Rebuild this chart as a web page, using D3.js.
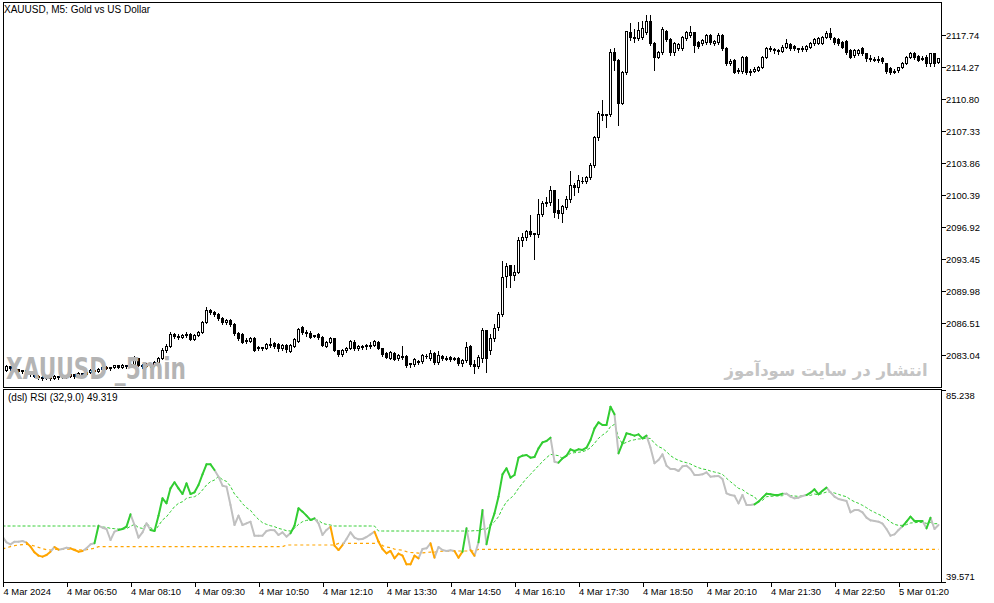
<!DOCTYPE html>
<html>
<head>
<meta charset="utf-8">
<script src="https://cdn.jsdelivr.net/npm/d3@7"></script>
<style>
  body { margin: 0; background: #fff; }
  svg { display: block; }
  text { font-family: Tahoma, "Liberation Sans", Arial, sans-serif; }
</style>
</head>
<body>
<div id="chart"></div>
<script>
// chart texts
const chartTitle = "XAUUSD, M5:  Gold vs US Dollar";
const rsiTitle = "(dsl) RSI (32,9.0) 49.319";
const watermark = "XAUUSD _5min";
const siteNote = "انتشار در سایت سودآموز";

// axis ticks
const priceTicks = [2083.04, 2086.51, 2089.98, 2093.45, 2096.92, 2100.39, 2103.86, 2107.33, 2110.80, 2114.27, 2117.74];
const rsiTicks = [85.238, 39.571];
const timeLabels = ["4 Mar 2024", "4 Mar 06:50", "4 Mar 08:10", "4 Mar 09:30", "4 Mar 10:50", "4 Mar 12:10",
  "4 Mar 13:30", "4 Mar 14:50", "4 Mar 16:10", "4 Mar 17:30", "4 Mar 18:50", "4 Mar 20:10",
  "4 Mar 21:30", "4 Mar 22:50", "5 Mar 01:20"];
const timeLabelBars = [0, 16, 32, 48, 64, 80, 96, 112, 128, 144, 160, 176, 192, 208, 224];

// M5 bars: [open, high, low, close]
const candles = [
  [2081.52,2081.74,2081.20,2081.41],[2081.41,2082.06,2081.30,2081.85],[2081.85,2081.95,2081.41,2081.63],[2081.63,2081.85,2081.30,2081.52],[2081.52,2081.63,2081.20,2081.30],
  [2081.30,2081.52,2081.09,2081.41],[2081.41,2081.52,2080.98,2081.09],[2081.09,2081.30,2080.76,2080.98],[2080.98,2081.09,2080.65,2080.76],[2080.76,2080.98,2080.44,2080.65],
  [2080.65,2080.87,2080.33,2080.55],[2080.55,2080.76,2080.44,2080.65],[2080.65,2080.87,2080.33,2080.55],[2080.55,2080.98,2080.44,2080.76],[2080.76,2080.87,2080.44,2080.65],
  [2080.65,2081.09,2080.55,2080.87],[2080.87,2080.98,2080.55,2080.76],[2080.76,2081.20,2080.65,2080.98],[2080.98,2081.09,2080.55,2080.76],[2080.76,2081.30,2080.65,2081.09],
  [2081.09,2081.20,2080.76,2080.98],[2080.98,2081.41,2080.87,2081.20],[2081.20,2081.63,2081.09,2081.41],[2081.41,2081.52,2081.09,2081.30],[2081.30,2081.74,2081.20,2081.52],
  [2081.52,2081.95,2081.41,2081.74],[2081.74,2081.95,2081.52,2081.63],[2081.63,2081.85,2081.41,2081.74],[2081.74,2082.06,2081.63,2081.95],[2081.95,2082.06,2081.63,2081.74],
  [2081.74,2082.17,2081.63,2081.95],[2081.95,2082.06,2081.63,2081.85],[2081.85,2082.28,2081.74,2082.06],[2082.06,2083.04,2081.95,2082.71],[2082.71,2082.82,2081.85,2081.95],
  [2081.95,2082.17,2081.63,2081.85],[2081.85,2082.28,2081.74,2082.06],[2082.06,2082.28,2081.74,2081.95],[2081.95,2082.50,2081.85,2082.28],[2082.28,2082.93,2082.17,2082.71],
  [2082.71,2083.91,2082.61,2083.58],[2083.58,2084.34,2083.37,2084.02],[2084.02,2085.64,2083.91,2085.31],[2085.31,2085.53,2084.88,2085.10],[2085.10,2085.42,2084.77,2084.99],
  [2084.99,2085.42,2084.88,2085.21],[2085.21,2085.64,2084.99,2085.31],[2085.31,2085.53,2084.67,2084.77],[2084.77,2085.42,2084.67,2085.21],[2085.21,2085.75,2085.10,2085.53],
  [2085.53,2086.83,2085.42,2086.62],[2086.62,2088.35,2086.51,2087.92],[2087.92,2088.14,2087.49,2087.70],[2087.70,2087.92,2087.27,2087.49],[2087.49,2087.70,2086.83,2087.05],
  [2087.05,2087.27,2086.40,2086.62],[2086.62,2087.05,2086.40,2086.83],[2086.83,2087.05,2086.18,2086.40],[2086.40,2086.62,2085.21,2085.42],[2085.42,2085.64,2084.67,2084.88],
  [2085.31,2085.53,2084.34,2084.45],[2084.67,2084.99,2084.34,2084.56],[2084.56,2085.10,2084.45,2084.88],[2084.88,2085.10,2083.47,2083.58],[2083.80,2084.13,2083.58,2083.91],
  [2083.80,2084.02,2083.58,2083.91],[2083.80,2084.45,2083.69,2084.23],[2084.23,2084.99,2083.91,2084.13],[2084.34,2084.56,2083.80,2084.02],[2084.23,2084.45,2083.47,2083.80],
  [2083.80,2084.34,2083.58,2084.13],[2084.13,2084.34,2083.37,2083.69],[2083.47,2084.34,2083.37,2084.13],[2084.02,2084.99,2083.91,2084.77],[2084.56,2086.07,2084.45,2085.86],
  [2086.07,2086.29,2085.31,2085.53],[2085.53,2085.86,2085.10,2085.42],[2085.42,2085.75,2084.88,2084.99],[2085.10,2085.31,2084.99,2085.21],[2085.31,2085.53,2084.77,2084.99],
  [2084.99,2085.21,2084.02,2084.13],[2084.02,2084.67,2083.91,2084.45],[2084.45,2085.10,2084.34,2084.88],[2084.88,2084.99,2083.47,2083.58],[2083.58,2083.69,2082.93,2083.15],
  [2083.15,2083.80,2082.93,2083.58],[2083.58,2084.02,2083.37,2083.80],[2083.80,2084.77,2083.69,2084.56],[2084.45,2084.77,2083.58,2083.80],[2083.80,2084.23,2083.58,2084.02],
  [2083.91,2084.23,2083.69,2084.02],[2084.02,2084.34,2083.69,2084.13],[2084.13,2084.56,2083.80,2084.07],[2084.13,2084.77,2084.02,2084.56],[2084.45,2084.67,2083.69,2083.80],
  [2083.80,2083.91,2082.93,2083.15],[2083.26,2083.47,2082.71,2082.82],[2082.71,2083.58,2082.61,2083.37],[2083.26,2083.47,2082.50,2082.61],[2082.71,2083.26,2082.50,2083.04],
  [2082.93,2084.13,2082.61,2082.82],[2082.93,2083.15,2081.74,2081.95],[2082.06,2082.28,2081.74,2082.17],[2082.06,2082.82,2081.85,2082.61],[2082.39,2082.61,2082.06,2082.28],
  [2082.39,2083.26,2082.17,2083.04],[2082.93,2083.26,2082.71,2082.88],[2082.71,2083.69,2082.50,2083.26],[2083.26,2083.47,2082.06,2082.28],[2082.28,2083.58,2082.06,2083.04],
  [2082.93,2083.15,2082.50,2082.71],[2082.71,2083.04,2082.50,2082.66],[2082.82,2083.04,2082.39,2082.61],[2082.71,2082.93,2082.50,2082.66],[2082.71,2082.93,2081.95,2082.17],
  [2082.17,2082.71,2081.85,2082.50],[2082.50,2084.56,2082.28,2083.91],[2084.02,2084.23,2081.85,2082.06],[2082.06,2082.61,2081.09,2081.85],[2081.85,2083.15,2081.63,2082.82],
  [2082.71,2086.07,2082.28,2085.75],[2085.75,2085.86,2081.20,2082.71],[2083.58,2085.42,2083.15,2084.88],[2084.88,2086.51,2084.56,2085.97],[2086.07,2087.81,2085.75,2087.49],
  [2087.49,2093.34,2087.27,2091.50],[2091.61,2093.12,2090.42,2092.69],[2092.80,2092.80,2090.42,2091.71],[2091.71,2092.91,2091.17,2092.04],[2092.04,2095.94,2091.93,2095.51],
  [2095.51,2096.38,2094.86,2095.84],[2095.84,2096.71,2095.51,2096.49],[2096.49,2098.33,2095.94,2096.16],[2096.16,2096.38,2093.45,2096.27],[2096.16,2100.06,2095.84,2098.33],
  [2098.33,2099.85,2098.11,2099.52],[2099.52,2100.28,2099.20,2099.63],[2099.63,2101.47,2099.31,2100.93],[2100.93,2101.04,2098.00,2098.55],[2098.76,2100.06,2097.89,2098.44],
  [2098.44,2099.42,2097.46,2099.20],[2099.09,2100.39,2098.87,2099.96],[2099.96,2103.10,2099.63,2101.47],[2101.47,2101.80,2100.39,2101.26],[2101.26,2102.67,2100.71,2102.02],
  [2101.91,2102.45,2101.69,2101.96],[2101.91,2102.56,2101.69,2102.34],[2102.34,2103.97,2102.12,2103.64],[2103.64,2106.90,2103.43,2106.68],[2106.68,2109.61,2106.35,2109.28],
  [2109.17,2110.80,2108.52,2109.06],[2109.06,2109.28,2107.76,2109.17],[2109.17,2116.33,2108.96,2115.90],[2115.90,2116.44,2113.94,2115.03],[2115.03,2115.25,2107.98,2110.37],
  [2110.37,2113.94,2110.26,2113.73],[2113.73,2118.28,2113.51,2118.17],[2118.07,2119.15,2117.20,2117.52],[2117.52,2118.50,2116.98,2117.42],[2117.42,2119.26,2117.20,2118.28],
  [2117.52,2119.37,2117.31,2118.50],[2118.07,2120.02,2117.85,2119.26],[2119.26,2120.02,2116.66,2116.87],[2116.87,2117.09,2113.94,2115.35],[2115.35,2116.11,2115.25,2115.90],
  [2115.90,2118.72,2115.68,2118.39],[2118.17,2118.39,2117.09,2117.31],[2117.31,2117.52,2115.57,2115.90],[2115.90,2117.09,2115.57,2116.87],[2116.33,2116.98,2116.11,2116.76],
  [2116.33,2117.74,2116.11,2117.52],[2117.42,2118.28,2117.20,2118.07],[2117.74,2118.82,2117.52,2118.07],[2118.07,2118.17,2115.90,2116.66],[2116.98,2117.20,2116.33,2116.55],
  [2116.87,2117.42,2116.66,2117.20],[2116.98,2117.96,2116.76,2117.74],[2117.74,2117.96,2116.76,2116.98],[2116.87,2117.31,2116.66,2117.09],[2116.98,2118.07,2116.76,2117.74],
  [2117.74,2117.96,2116.11,2116.33],[2116.33,2116.55,2114.49,2114.70],[2114.70,2115.25,2114.49,2114.92],[2115.03,2115.25,2113.62,2113.73],[2113.94,2114.27,2113.62,2113.84],
  [2113.84,2115.57,2113.62,2115.35],[2115.35,2115.57,2113.51,2113.73],[2113.73,2114.16,2113.40,2113.84],[2113.84,2114.38,2113.73,2114.05],[2113.94,2114.49,2113.84,2114.27],
  [2114.27,2115.57,2114.16,2115.35],[2115.35,2116.55,2115.25,2116.33],[2116.33,2116.66,2116.01,2116.22],[2116.22,2116.44,2115.79,2116.11],[2116.11,2116.33,2115.68,2116.01],
  [2116.01,2116.76,2115.90,2116.44],[2116.44,2117.42,2116.33,2116.87],[2116.76,2116.98,2116.11,2116.33],[2116.55,2116.76,2116.11,2116.33],[2116.33,2116.44,2115.90,2116.22],
  [2116.22,2116.66,2116.01,2116.33],[2116.22,2116.76,2116.01,2116.55],[2116.44,2117.09,2116.33,2116.87],[2116.87,2117.52,2116.66,2117.31],[2116.87,2117.63,2116.76,2117.42],
  [2116.87,2117.74,2116.76,2117.52],[2117.52,2118.28,2117.42,2117.96],[2117.96,2118.61,2117.31,2117.52],[2117.42,2117.63,2116.76,2116.98],[2117.31,2117.52,2116.66,2116.87],
  [2116.98,2117.20,2116.33,2116.44],[2117.09,2117.31,2115.68,2115.90],[2116.11,2116.33,2115.25,2115.35],[2115.57,2116.33,2115.35,2116.11],[2115.79,2116.33,2115.57,2116.11],
  [2116.33,2116.55,2115.57,2115.79],[2115.79,2115.90,2114.92,2115.25],[2115.25,2115.68,2114.92,2115.14],[2115.14,2115.46,2114.92,2115.03],[2115.03,2115.57,2114.81,2115.14],
  [2115.25,2115.46,2114.70,2114.92],[2114.70,2114.81,2113.62,2113.84],[2114.16,2114.38,2113.51,2113.73],[2113.73,2114.16,2113.62,2113.84],[2113.94,2114.38,2113.73,2114.27],
  [2114.27,2114.92,2114.16,2114.70],[2114.70,2115.57,2114.59,2115.35],[2115.35,2116.01,2115.25,2115.79],[2115.79,2116.01,2115.14,2115.35],[2115.46,2115.68,2114.92,2115.03],
  [2115.25,2115.57,2115.03,2115.14],[2115.35,2115.68,2114.38,2114.70],[2114.70,2115.90,2114.38,2115.79],[2115.79,2115.90,2114.38,2114.70],[2114.81,2115.35,2114.70,2115.25]
];

// RSI(32) per bar
const rsi = [
  50.35, 49.01, 48.53, 49.16, 49.16, 49.32, 48.93, 47.98, 46.63, 45.84,
  45.60, 45.99, 46.79, 47.90, 47.26, 47.42, 47.74, 47.58, 47.18, 46.79,
  46.95, 47.58, 48.53, 48.77, 52.97, 52.49, 52.18, 49.56, 51.54, 51.94,
  52.18, 52.73, 55.67, 53.13, 50.12, 51.38, 53.53, 51.94, 51.70, 55.35,
  59.47, 58.28, 61.85, 63.28, 61.85, 60.50, 63.04, 60.50, 60.90, 62.64,
  65.18, 67.56, 67.56, 66.21, 64.63, 62.48, 62.25, 57.89, 53.13, 55.35,
  53.13, 53.53, 53.92, 50.59, 50.59, 50.59, 51.70, 51.94, 51.86, 50.75,
  51.38, 50.36, 51.15, 52.97, 57.09, 56.30, 55.35, 54.32, 54.71, 53.53,
  50.75, 51.94, 52.73, 48.21, 47.18, 48.37, 49.80, 51.38, 50.12, 49.72,
  49.80, 50.27, 50.91, 51.54, 49.16, 47.42, 46.39, 46.95, 45.20, 46.31,
  45.84, 43.77, 43.77, 45.84, 45.20, 47.42, 47.58, 48.77, 45.36, 47.90,
  47.18, 46.95, 47.10, 46.95, 45.36, 46.79, 52.33, 47.18, 45.80, 49.01,
  56.69, 48.53, 53.13, 55.90, 59.87, 65.18, 66.61, 64.39, 65.02, 69.14,
  69.62, 69.78, 69.14, 69.30, 71.36, 72.79, 73.11, 73.90, 68.19, 67.95,
  68.99, 69.62, 71.13, 70.73, 71.13, 70.97, 71.52, 73.35, 76.12, 77.55,
  76.91, 76.91, 81.27, 79.45, 70.17, 72.55, 74.93, 74.69, 74.38, 74.69,
  73.74, 74.38, 71.52, 67.80, 68.59, 69.94, 67.24, 66.45, 66.45, 65.97,
  67.08, 67.24, 66.45, 65.02, 65.02, 65.18, 65.66, 64.63, 64.71, 64.79,
  64.07, 60.66, 60.26, 60.10, 58.28, 60.26, 57.89, 57.89, 58.04, 58.68,
  59.63, 60.58, 60.42, 60.26, 60.26, 60.58, 60.58, 59.87, 59.47, 59.63,
  60.03, 60.26, 60.82, 61.61, 60.42, 61.29, 62.01, 60.90, 59.87, 59.31,
  59.07, 58.84, 56.14, 56.69, 56.69, 56.14, 54.87, 54.24, 54.08, 53.92,
  53.45, 52.18, 50.59, 50.91, 51.94, 52.81, 53.92, 55.11, 54.08, 54.08,
  54.08, 52.33, 54.87, 52.18, 53.13
];

// discontinued signal lines
const upperLevel = [
  52.89, 52.89, 52.89, 52.89, 52.89, 52.89, 52.89, 52.89, 52.89, 52.89,
  52.89, 52.89, 52.89, 52.89, 52.89, 52.89, 52.89, 52.89, 52.89, 52.89,
  52.89, 52.89, 52.89, 52.89, 52.81, 52.65, 52.57, 52.33, 52.25, 52.17,
  52.17, 52.25, 52.81, 53.30, 52.49, 52.33, 53.60, 52.60, 51.60, 52.96,
  54.31, 55.10, 56.30, 57.49, 58.28, 58.67, 59.47, 59.70, 59.86, 60.42,
  61.45, 62.64, 63.43, 63.83, 64.70, 63.90, 63.50, 62.32, 60.50, 59.47,
  58.20, 57.25, 56.61, 55.42, 54.47, 53.68, 53.28, 52.96, 52.73, 52.33,
  52.09, 51.78, 51.70, 52.33, 53.28, 53.92, 54.23, 54.31, 54.39, 54.23,
  53.52, 53.28, 53.12, 52.89, 52.89, 52.89, 52.89, 52.89, 52.89, 52.89,
  52.89, 52.89, 52.89, 52.89, 51.70, 51.70, 51.70, 51.70, 51.70, 51.70,
  51.70, 51.70, 51.70, 51.70, 51.70, 51.70, 51.70, 51.70, 51.70, 51.70,
  51.70, 51.70, 51.70, 51.70, 51.70, 51.70, 51.70, 51.70, 51.78, 51.78,
  52.17, 52.17, 52.96, 53.92, 55.10, 57.09, 58.67, 59.47, 60.42, 61.85,
  63.04, 64.23, 65.18, 66.21, 67.24, 68.19, 69.14, 69.93, 69.78, 69.62,
  68.90, 69.50, 70.17, 70.33, 70.41, 70.57, 70.89, 71.52, 72.55, 73.74,
  74.53, 75.17, 76.52, 77.07, 74.00, 72.40, 72.80, 73.20, 73.40, 73.60,
  73.60, 73.80, 73.70, 72.55, 71.76, 71.36, 70.57, 69.62, 68.98, 68.51,
  68.19, 67.95, 67.64, 67.16, 66.76, 66.45, 66.29, 65.97, 65.73, 65.49,
  65.18, 64.23, 63.43, 62.64, 61.85, 61.53, 60.82, 60.26, 59.86, 58.60,
  59.00, 59.86, 59.94, 60.02, 60.02, 60.10, 60.60, 60.10, 60.02, 59.94,
  60.10, 60.30, 60.18, 60.50, 60.30, 60.66, 60.97, 60.97, 60.74, 60.42,
  60.10, 59.86, 59.15, 58.67, 58.28, 57.80, 57.25, 56.61, 56.14, 55.66,
  55.26, 54.63, 53.84, 53.28, 53.04, 53.04, 53.20, 53.60, 53.68, 53.76,
  53.76, 53.52, 53.76, 53.44, 53.44
];
const lowerLevel = [
  47.41, 47.73, 47.97, 48.21, 48.37, 48.45, 48.52, 48.37, 48.13, 47.81,
  47.49, 47.25, 47.18, 47.34, 47.34, 47.34, 47.41, 47.41, 47.34, 47.25,
  47.18, 47.25, 47.41, 47.57, 47.97, 47.97, 47.97, 47.97, 47.97, 47.97,
  47.97, 47.97, 47.97, 47.97, 47.97, 47.97, 47.97, 47.97, 47.97, 47.97,
  47.97, 47.97, 47.97, 47.97, 47.97, 47.97, 47.97, 47.97, 47.97, 47.97,
  47.97, 47.97, 47.97, 47.97, 47.97, 47.97, 47.97, 47.97, 47.97, 47.97,
  47.97, 47.97, 47.97, 47.97, 47.97, 47.97, 47.97, 47.97, 47.97, 47.97,
  47.97, 48.37, 48.37, 48.37, 48.37, 48.37, 48.37, 48.37, 48.37, 48.37,
  48.37, 48.37, 48.37, 48.37, 48.76, 48.76, 48.76, 48.76, 48.76, 48.76,
  48.76, 48.76, 48.76, 48.76, 49.30, 48.21, 47.89, 47.73, 47.41, 47.25,
  47.10, 46.78, 46.62, 46.54, 46.46, 46.50, 46.60, 46.70, 46.70, 46.80,
  46.90, 46.90, 46.94, 46.94, 46.94, 46.94, 46.94, 46.94, 47.00, 47.34,
  47.34, 47.34, 47.34, 47.34, 47.34, 47.34, 47.34, 47.34, 47.34, 47.34,
  47.34, 47.34, 47.34, 47.34, 47.34, 47.34, 47.34, 47.34, 47.34, 47.34,
  47.34, 47.34, 47.34, 47.34, 47.34, 47.34, 47.34, 47.34, 47.34, 47.34,
  47.34, 47.34, 47.34, 47.34, 47.34, 47.34, 47.34, 47.34, 47.34, 47.34,
  47.34, 47.34, 47.34, 47.34, 47.34, 47.34, 47.34, 47.34, 47.34, 47.34,
  47.34, 47.34, 47.34, 47.34, 47.34, 47.34, 47.34, 47.34, 47.34, 47.34,
  47.34, 47.34, 47.34, 47.34, 47.34, 47.34, 47.34, 47.34, 47.34, 47.34,
  47.34, 47.34, 47.34, 47.34, 47.34, 47.34, 47.34, 47.34, 47.34, 47.34,
  47.34, 47.34, 47.34, 47.34, 47.34, 47.34, 47.34, 47.34, 47.34, 47.34,
  47.34, 47.34, 47.34, 47.34, 47.34, 47.34, 47.34, 47.34, 47.34, 47.34,
  47.34, 47.34, 47.34, 47.34, 47.34, 47.34, 47.34, 47.34, 47.34, 47.34,
  47.34, 47.34, 47.34, 47.34, 47.34
];

const W = 994, H = 603;
const left = 3, right = 941;
const priceTop = 2, priceBottom = 387, rsiTop = 389, rsiBottom = 582;

const svg = d3.select("#chart").append("svg")
  .attr("width", W).attr("height", H)
  .attr("viewBox", `0 0 ${W} ${H}`);
svg.append("rect").attr("width", W).attr("height", H).attr("fill", "#fff");

// one bar every 4px, bar 0 sits on the left frame
const x = d3.scaleLinear().domain([0, 1]).range([2.5, 6.5]);
const y = d3.scaleLinear().domain([2083.04, 2117.74]).range([355, 35]);
const yr = d3.scaleLinear().domain([39.571, 85.238]).range([582, 390]);
const snap = v => Math.round(v) + 0.5;

const defs = svg.append("defs");
defs.append("clipPath").attr("id", "clipPrice").append("rect")
  .attr("x", left + 0.5).attr("y", priceTop + 0.5).attr("width", right - left - 1).attr("height", priceBottom - priceTop - 1);
defs.append("clipPath").attr("id", "clipRsi").append("rect")
  .attr("x", left + 0.5).attr("y", rsiTop + 0.5).attr("width", right - left - 1).attr("height", rsiBottom - rsiTop - 1);

// ---- candles
const candleG = svg.append("g").attr("clip-path", "url(#clipPrice)").attr("shape-rendering", "crispEdges");
candleG.selectAll("line.wick").data(candles).join("line")
  .attr("class", "wick")
  .attr("x1", (d, i) => x(i)).attr("x2", (d, i) => x(i))
  .attr("y1", d => snap(y(d[1]))).attr("y2", d => snap(y(d[2])))
  .attr("stroke", "#000");
candleG.selectAll("rect.body").data(candles.map((d, i) => ({ d, i })).filter(o => snap(y(o.d[0])) !== snap(y(o.d[3]))))
  .join("rect")
  .attr("class", "body")
  .attr("x", o => x(o.i) - 1)
  .attr("y", o => Math.min(snap(y(o.d[0])), snap(y(o.d[3]))))
  .attr("width", 2)
  .attr("height", o => Math.abs(snap(y(o.d[0])) - snap(y(o.d[3]))))
  .attr("fill", o => o.d[3] > o.d[0] ? "#fff" : "#000")
  .attr("stroke", "#000");
candleG.selectAll("line.doji").data(candles.map((d, i) => ({ d, i })).filter(o => snap(y(o.d[0])) === snap(y(o.d[3]))))
  .join("line")
  .attr("class", "doji")
  .attr("x1", o => x(o.i) - 1.5).attr("x2", o => x(o.i) + 1.5)
  .attr("y1", o => snap(y(o.d[3]))).attr("y2", o => snap(y(o.d[3])))
  .attr("stroke", "#000");

// watermarks
svg.append("text")
  .attr("x", 6).attr("y", 379)
  .attr("textLength", 180).attr("lengthAdjust", "spacingAndGlyphs")
  .style("font-family", "'Liberation Sans Narrow', 'DejaVu Sans Condensed', 'Liberation Sans', sans-serif")
  .style("font-weight", "bold").style("font-size", "31px")
  .attr("fill", "#b4b4b4")
  .text(watermark);
svg.append("text")
  .attr("x", 826).attr("y", 376)
  .attr("text-anchor", "middle")
  .style("font-family", "'DejaVu Sans', sans-serif")
  .style("font-weight", "bold").style("font-size", "16.5px")
  .attr("fill", "#c4c4c4")
  .text(siteNote);

// ---- RSI panel
const rsiG = svg.append("g").attr("clip-path", "url(#clipRsi)");
const levelLine = arr => d3.line().x((d, i) => x(i)).y(d => yr(d))(arr);
rsiG.append("path").attr("d", levelLine(upperLevel))
  .attr("fill", "none").attr("stroke", "#32cd32").attr("stroke-width", 1).attr("stroke-dasharray", "3,2");
rsiG.append("path").attr("d", levelLine(lowerLevel))
  .attr("fill", "none").attr("stroke", "#ffa500").attr("stroke-width", 1.2).attr("stroke-dasharray", "3,3");

const stateColor = i => rsi[i] > upperLevel[i] ? "#32cd32" : (rsi[i] < lowerLevel[i] ? "#ffa500" : "#c0c0c0");
const segs = d3.range(1, rsi.length);
// gray first, colored on top
segs.sort((a, b) => (stateColor(a) === "#c0c0c0" ? 0 : 1) - (stateColor(b) === "#c0c0c0" ? 0 : 1));
rsiG.selectAll("line.rsi").data(segs).join("line")
  .attr("class", "rsi")
  .attr("x1", i => x(i - 1)).attr("y1", i => yr(rsi[i - 1]))
  .attr("x2", i => x(i)).attr("y2", i => yr(rsi[i]))
  .attr("stroke", i => stateColor(i))
  .attr("stroke-width", 2)
  .attr("stroke-linecap", "round");

// ---- frames
const frame = svg.append("g").attr("shape-rendering", "crispEdges").attr("fill", "none").attr("stroke", "#000");
frame.append("rect").attr("x", left + 0.5).attr("y", priceTop + 0.5).attr("width", right - left).attr("height", priceBottom - priceTop);
frame.append("rect").attr("x", left + 0.5).attr("y", rsiTop + 0.5).attr("width", right - left).attr("height", rsiBottom - rsiTop);

// price axis
const axisFont = "9.4px";
const pAxis = svg.append("g");
pAxis.selectAll("line").data(priceTicks).join("line")
  .attr("x1", right + 0.5).attr("x2", right + 4.5)
  .attr("y1", d => snap(y(d))).attr("y2", d => snap(y(d)))
  .attr("stroke", "#000").attr("shape-rendering", "crispEdges");
pAxis.selectAll("text").data(priceTicks).join("text")
  .attr("x", right + 5).attr("y", d => y(d) + 3.5)
  .style("font-size", axisFont).attr("fill", "#000")
  .text(d => d.toFixed(2));

// rsi axis
const rAxis = svg.append("g");
rAxis.selectAll("line").data(rsiTicks).join("line")
  .attr("x1", right + 0.5).attr("x2", right + 4.5)
  .attr("y1", d => snap(yr(d))).attr("y2", d => snap(yr(d)))
  .attr("stroke", "#000").attr("shape-rendering", "crispEdges");
rAxis.selectAll("text").data(rsiTicks).join("text")
  .attr("x", right + 5).attr("y", (d, i) => i === 0 ? yr(d) + 9 : yr(d) - 2)
  .style("font-size", axisFont).attr("fill", "#000")
  .text(d => d.toFixed(3));

// time axis
const tAxis = svg.append("g");
tAxis.selectAll("line").data(timeLabelBars).join("line")
  .attr("x1", b => snap(x(b))).attr("x2", b => snap(x(b)))
  .attr("y1", rsiBottom + 0.5).attr("y2", rsiBottom + 4.5)
  .attr("stroke", "#000").attr("shape-rendering", "crispEdges");
tAxis.selectAll("text").data(timeLabels).join("text")
  .attr("x", (d, i) => Math.max(x(timeLabelBars[i]), left) + 0.5)
  .attr("y", 595)
  .style("font-size", axisFont).attr("fill", "#000")
  .text(d => d);

// titles
svg.append("text").attr("x", 4).attr("y", 13)
  .style("font-size", "10px").attr("fill", "#000").text(chartTitle);
svg.append("text").attr("x", 8).attr("y", 401)
  .style("font-size", "10px").attr("fill", "#000").text(rsiTitle);
</script>
</body>
</html>
